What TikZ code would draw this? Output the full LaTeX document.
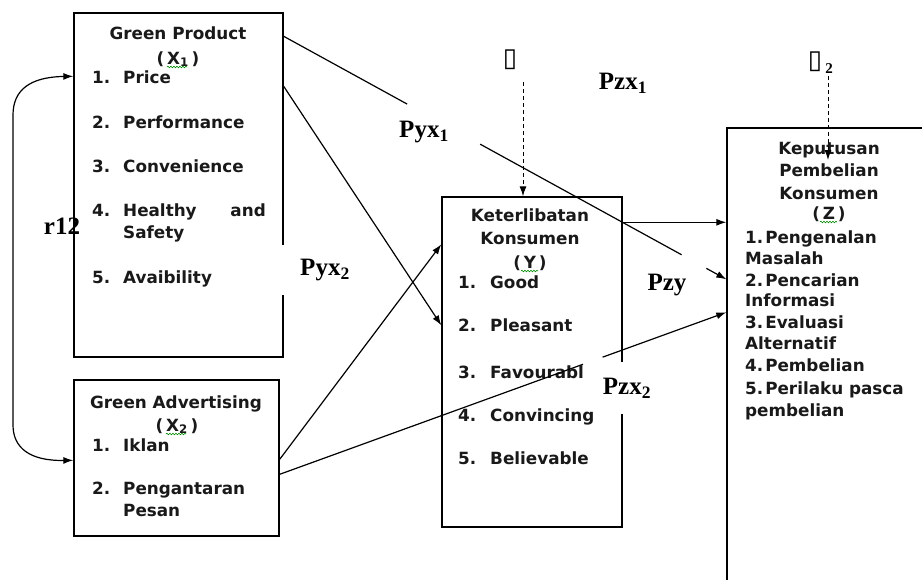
\documentclass[tikz,border=0pt]{standalone}
\usepackage{fontspec}
\setmainfont{DejaVu Sans}
\newfontfamily\labf{Liberation Serif}
\usetikzlibrary{arrows.meta,calc,decorations.pathmorphing}
\begin{document}
\begin{tikzpicture}[x=1pt,y=-1pt,
  box/.style={draw=black, line width=1.4pt, inner sep=0pt},
  txt/.style={anchor=base west, inner sep=0pt, text=black!90, font=\bfseries\fontsize{16.8}{19}\selectfont},
  ttl/.style={anchor=base, inner sep=0pt, text=black!90, font=\bfseries\fontsize{16.8}{19}\selectfont},
  lab/.style={font=\labf\bfseries\fontsize{25}{25}\selectfont, inner sep=1pt},
  conn/.style={line width=1.2pt},
  tip/.style={-{Latex[length=10pt,width=7pt]}},
  dsh/.style={line width=1pt, dash pattern=on 4pt off 3pt},
  squig/.style={draw=green!55!black, line width=0.6pt, decorate, decoration={snake,amplitude=0.8pt,segment length=3pt}},
  ]
\useasboundingbox (0,0) rectangle (922,579);
\clip (0,0) rectangle (922,579);
\fill[white] (0,0) rectangle (922,579);

% boxes
\node[box, minimum width=209pt, minimum height=344pt] (X1) at (178.5,185) {};
\node[box, minimum width=205pt, minimum height=156pt] (X2) at (176.5,458) {};
\node[box, minimum width=180pt, minimum height=330pt] (Y) at (532,362) {};
\node[box, minimum width=220pt, minimum height=472pt] (Z) at (837,364) {};

% Green Product
\node[ttl] (x1t) at (178,39) {Green Product};
\node[ttl] (x1s) at (178,64) {(\,X\textsubscript{1}\,)};
\node[txt] (x1n1) at (92,83) {1.};  \node[txt] (x1i1) at (123,83) {Price};
\node[txt] (x1n2) at (92,128) {2.}; \node[txt] (x1i2) at (123,128) {Performance};
\node[txt] (x1n3) at (92,172) {3.}; \node[txt] (x1i3) at (123,172) {Convenience};
\node[txt] (x1n4) at (92,216) {4.}; \node[txt] (x1i4) at (123,216) {Healthy};
\node[txt, anchor=base east] (x1i4b) at (266,216) {and};
\node[txt] (x1i4c) at (123,238) {Safety};
\node[txt] (x1n5) at (92,283) {5.}; \node[txt] (x1i5) at (123,283) {Avaibility};

% Green Advertising
\node[ttl] (x2t) at (176,408) {Green Advertising};
\node[ttl] (x2s) at (177,431) {(\,X\textsubscript{2}\,)};
\node[txt] (x2n1) at (92,451) {1.}; \node[txt] (x2i1) at (123,451) {Iklan};
\node[txt] (x2n2) at (92,494) {2.}; \node[txt] (x2i2) at (123,494) {Pengantaran};
\node[txt] (x2i2b) at (123,516) {Pesan};

% Keterlibatan Konsumen
\node[ttl] (yt1) at (530,221) {Keterlibatan};
\node[ttl] (yt2) at (530,244) {Konsumen};
\node[ttl] (ys) at (530,268) {(\,Y\,)};
\node[txt] (yn1) at (458,288) {1.}; \node[txt] (yi1) at (490,288) {Good};
\node[txt] (yn2) at (458,331) {2.}; \node[txt] (yi2) at (490,331) {Pleasant};
\node[txt] (yn3) at (458,378) {3.}; \node[txt] (yi3) at (490,378) {Favourabl};
\node[txt] (yn4) at (458,421) {4.}; \node[txt] (yi4) at (490,421) {Convincing};
\node[txt] (yn5) at (458,464) {5.}; \node[txt] (yi5) at (490,464) {Believable};

% Keputusan Pembelian Konsumen
\node[ttl] (zt1) at (829,154) {Keputusan};
\node[ttl] (zt2) at (829,176) {Pembelian};
\node[ttl] (zt3) at (829,199) {Konsumen};
\node[ttl] (zs) at (829,219) {(\,Z\,)};
\node[txt] (zi1) at (745,243) {1.\hspace{2pt}Pengenalan};
\node[txt] (zi1b) at (745,264) {Masalah};
\node[txt] (zi2) at (745,286) {2.\hspace{2pt}Pencarian};
\node[txt] (zi2b) at (745,306) {Informasi};
\node[txt] (zi3) at (745,328) {3.\hspace{2pt}Evaluasi};
\node[txt] (zi3b) at (745,349) {Alternatif};
\node[txt] (zi4) at (745,371) {4.\hspace{2pt}Pembelian};
\node[txt] (zi5) at (745,394) {5.\hspace{2pt}Perilaku pasca};
\node[txt] (zi5b) at (745,416) {pembelian};

% spell-check squiggles
\draw[squig] ($(x1s.base)+(-11,3)$) -- ($(x1s.base)+(9,3)$);
\draw[squig] ($(x2s.base)+(-11,3)$) -- ($(x2s.base)+(9,3)$);
\draw[squig] ($(ys.base)+(-9,3)$) -- ($(ys.base)+(8,3)$);
\draw[squig] ($(zs.base)+(-9,3)$) -- ($(zs.base)+(8,3)$);

% connector end points
\coordinate (a1) at ($(X1.north east)+(0,24)$);
\coordinate (a1e) at ($(Z.north west)+(0,152)$);
\coordinate (g1) at ($(a1)!0.279!(a1e)$);
\coordinate (g2) at ($(a1)!0.444!(a1e)$);
\coordinate (g3) at ($(a1)!0.899!(a1e)$);
\coordinate (g4) at ($(a1)!0.955!(a1e)$);
\coordinate (b1) at ($(X1.north east)+(0,74)$);
\coordinate (b1e) at ($(Y.north west)+(0,129)$);
\coordinate (c1) at ($(X2.north east)+(0,80)$);
\coordinate (c1e) at ($(Y.north west)+(0,48)$);
\coordinate (d1) at ($(X2.north east)+(0,95)$);
\coordinate (d1e) at ($(Z.north west)+(0,185)$);
\coordinate (h1) at ($(d1)!0.679!(d1e)$);
\coordinate (h2) at ($(d1)!0.723!(d1e)$);
\coordinate (y1) at ($(Y.north east)+(0,26)$);
\coordinate (y1e) at ($(Z.north west)+(0,95)$);
\coordinate (r1) at ($(X1.north west)+(0,64)$);
\coordinate (r2) at ($(X2.north west)+(0,81)$);

% connectors
\draw[conn] (a1) -- (g1);
\draw[conn] (g2) -- (g3);
\draw[conn, tip] (g4) -- (a1e);
\draw[conn, tip] (b1) -- (b1e);
\draw[conn, tip] (c1) -- (c1e);
\draw[conn] (d1) -- (h1);
\draw[conn, tip] (h2) -- (d1e);
\draw[conn, tip] (y1) -- (y1e);
\draw[conn, {Latex[length=10pt,width=7pt]}-{Latex[length=10pt,width=7pt]}]
  (r1) .. controls (30,77) and (13,90) .. (13,115) -- (13,425)
  .. controls (13,448) and (30,461) .. (r2);

% error terms
\node[font=\fontsize{26}{26}\selectfont, inner sep=0pt] (e1) at (510,60) {▯};
\node[font=\fontsize{26}{26}\selectfont, inner sep=0pt] (e2) at (815,62) {▯};
\node[lab, font=\labf\bfseries\fontsize{15}{15}\selectfont, inner sep=0pt] (e2s) at (829,69) {2};
\coordinate (e1s) at (523,82);
\coordinate (e2a) at (828,76);
\coordinate (e2b) at (828,160);
\draw[dsh, tip] (e1s) -- (e1s |- Y.north);
\draw[dsh, tip] (e2a) -- (e2b);

% path labels
\node[lab] (pzx1) at (623,83) {Pzx\textsubscript{1}};
\node[lab] (pyx1) at (424,132) {Pyx\textsubscript{1}};
\node[lab, fill=white, inner xsep=22pt, minimum height=50pt] (pyx2) at (325,270) {Pyx\textsubscript{2}};
\node[lab] (pzy) at (667,285) {Pzy};
\node[lab, fill=white, inner xsep=5pt, minimum height=52pt] (pzx2) at (627,388) {Pzx\textsubscript{2}};
\node[lab] (r12) at (62,226) {r12};
\end{tikzpicture}
\end{document}
